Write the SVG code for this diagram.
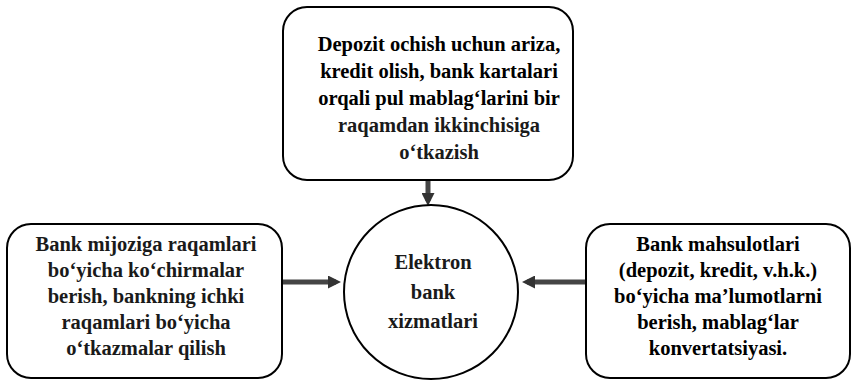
<svg xmlns="http://www.w3.org/2000/svg" width="855" height="386" viewBox="0 0 855 386">
<defs>
<style>
.box{fill:#fff;stroke:#000;stroke-width:2}
.t{font-family:"Liberation Serif","Times New Roman",serif;font-weight:700;font-size:20.5px;fill:#000;text-anchor:middle}
.r{fill:#1a1a1a}
.conn{stroke:#454545;stroke-width:5;fill:none}
</style>
<marker id="ah" markerWidth="2.6" markerHeight="2.6" refX="1.6" refY="1.3" orient="auto" markerUnits="strokeWidth">
<path d="M0,0 L2.6,1.3 L0,2.6 Z" fill="#333"/>
</marker>
</defs>
<rect width="855" height="386" fill="#fff"/>
<g id="connectors">
<line class="conn" x1="428" y1="181" x2="428" y2="201" marker-end="url(#ah)"/>
<line class="conn" x1="283" y1="282" x2="336" y2="282" marker-end="url(#ah)"/>
<line class="conn" x1="586" y1="282" x2="527" y2="282" marker-end="url(#ah)"/>
</g>
<g id="top">
<rect class="box" x="283" y="7" width="290" height="173" rx="24"/>
<text class="t" x="439" y="51">Depozit ochish uchun ariza,</text>
<text class="t" x="439" y="78">kredit olish, bank kartalari</text>
<text class="t" x="439" y="105">orqali pul mablag‘larini bir</text>
<text class="t r" x="439" y="132">raqamdan ikkinchisiga</text>
<text class="t r" x="439" y="159">o‘tkazish</text>
</g>
<g id="left">
<rect class="box" x="7" y="224" width="275" height="154" rx="24"/>
<text class="t r" x="146" y="251">Bank mijoziga raqamlari</text>
<text class="t r" x="146" y="277">bo‘yicha ko‘chirmalar</text>
<text class="t r" x="146" y="303">berish, bankning ichki</text>
<text class="t r" x="146" y="329">raqamlari bo‘yicha</text>
<text class="t r" x="146" y="355">o‘tkazmalar qilish</text>
</g>
<g id="center">
<circle class="box" cx="431" cy="292" r="87"/>
<text class="t r" x="433" y="269">Elektron</text>
<text class="t r" x="433" y="299">bank</text>
<text class="t r" x="433" y="328">xizmatlari</text>
</g>
<g id="right">
<rect class="box" x="586" y="224" width="264" height="154" rx="24"/>
<text class="t" x="718" y="251">Bank mahsulotlari</text>
<text class="t" x="718" y="277">(depozit, kredit, v.h.k.)</text>
<text class="t" x="718" y="303">bo‘yicha ma’lumotlarni</text>
<text class="t" x="718" y="329">berish, mablag‘lar</text>
<text class="t" x="718" y="355">konvertatsiyasi.</text>
</g>
</svg>
